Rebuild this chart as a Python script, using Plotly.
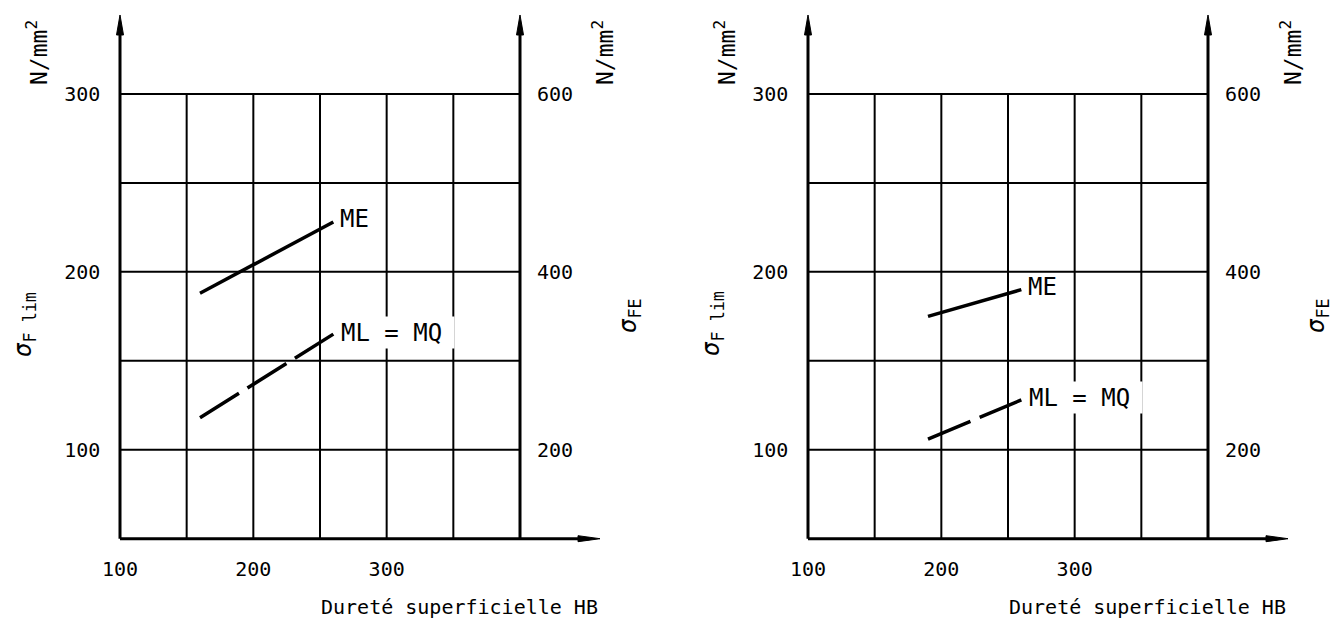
import plotly.graph_objects as go

# ---------------- data ----------------
hb_grid = [150, 200, 250, 300, 350]          # interior vertical grid lines (HB)
sig_grid = [100, 150, 200, 250, 300]         # horizontal grid lines (N/mm2)
x_ticks = [100, 200, 300]
y_ticks = [100, 200, 300]
y_right_ticks = [200, 400, 600]              # sigma_FE = 2 * sigma_F lim
HB_MIN, HB_MAX = 100, 400
SIG_MIN, SIG_MAX = 50, 300
X_END, Y_END = 460, 344.4                    # arrow tips

left_me_hb = [160, 260]
left_me_sig = [188, 228]
left_mlmq_hb = [160, 260]
left_mlmq_sig = [118, 165]

right_me_hb = [190, 260]
right_me_sig = [175, 190]
right_mlmq_hb = [190, 260]
right_mlmq_sig = [106, 128]

x_title = "Dureté superficielle HB"

# ---------------- layout helpers ----------------
W, H = 1334, 622
FONT = "DejaVu Sans Mono"
OFF = 688            # pixel offset of the second panel
PAD = 5              # data-unit padding so edge shapes are not clipped
SX = 480 / (X_END - HB_MIN)          # px per HB unit
SY = (538.7 - 15) / (Y_END - SIG_MIN)  # px per N/mm2 unit

def px(x):
    return x / W

def py(y):
    return 1 - y / H

fig = go.Figure()

panels = [
    ("x", "y", left_me_hb, left_me_sig, left_mlmq_hb, left_mlmq_sig, 0),
    ("x2", "y2", right_me_hb, right_me_sig, right_mlmq_hb, right_mlmq_sig, OFF),
]

shapes = []
annotations = []
for xr, yr, me_x, me_y, ml_x, ml_y, off in panels:
    # grid
    for hb in hb_grid:
        shapes.append(dict(type="line", xref=xr, yref=yr, x0=hb, x1=hb, y0=SIG_MIN, y1=SIG_MAX,
                           line=dict(color="black", width=2), layer="below"))
    for s in sig_grid:
        shapes.append(dict(type="line", xref=xr, yref=yr, x0=HB_MIN, x1=HB_MAX, y0=s, y1=s,
                           line=dict(color="black", width=2), layer="below"))
    # axes
    shapes.append(dict(type="line", xref=xr, yref=yr, x0=HB_MIN, x1=X_END - 8, y0=SIG_MIN, y1=SIG_MIN,
                       line=dict(color="black", width=3), layer="below"))
    for xa in (HB_MIN, HB_MAX):
        shapes.append(dict(type="line", xref=xr, yref=yr, x0=xa, x1=xa, y0=SIG_MIN, y1=Y_END - 5,
                           line=dict(color="black", width=3), layer="below"))
        shapes.append(dict(type="path", xref=xr, yref=yr, xsizemode="pixel", ysizemode="pixel",
                           xanchor=xa, yanchor=Y_END, path="M-3.5,-20 L0,0 L3.5,-20 Z",
                           fillcolor="black", line=dict(color="black", width=1)))
    shapes.append(dict(type="path", xref=xr, yref=yr, xsizemode="pixel", ysizemode="pixel",
                       xanchor=X_END, yanchor=SIG_MIN, path="M-22,-3 L0,0 L-22,3 Z",
                       fillcolor="black", line=dict(color="black", width=1)))

    # curves
    fig.add_trace(go.Scatter(x=me_x, y=me_y, mode="lines", xaxis=xr, yaxis=yr,
                             line=dict(color="black", width=3.5), hoverinfo="skip", showlegend=False))
    fig.add_trace(go.Scatter(x=ml_x, y=ml_y, mode="lines", xaxis=xr, yaxis=yr,
                             line=dict(color="black", width=3.5, dash="46px,10px"),
                             hoverinfo="skip", showlegend=False))

    # curve labels
    annotations.append(dict(xref=xr, yref=yr, x=me_x[-1], y=me_y[-1], text="ME", showarrow=False,
                            xanchor="left", yanchor="middle", xshift=5, yshift=3,
                            font=dict(family=FONT, size=24, color="black")))
    annotations.append(dict(xref=xr, yref=yr, x=ml_x[-1], y=ml_y[-1], text="ML = MQ",
                            showarrow=False, xanchor="left", yanchor="middle", xshift=4, yshift=2,
                            bgcolor="white", width=110, height=25, align="left", borderpad=3,
                            font=dict(family=FONT, size=24, color="black")))

    # right axis tick labels (sigma_FE)
    for v in y_right_ticks:
        annotations.append(dict(xref=xr, yref=yr, x=HB_MAX, y=v / 2, text=str(v), showarrow=False,
                                xanchor="left", yanchor="middle", xshift=15,
                                font=dict(family=FONT, size=20, color="black")))

    # x title
    annotations.append(dict(xref=xr, yref="paper", x=X_END, y=py(607), text=x_title, showarrow=False,
                            xanchor="right", yanchor="middle", xshift=0,
                            font=dict(family=FONT, size=20, color="black")))
    # unit labels
    for ux in (37, 603):
        annotations.append(dict(xref="paper", yref="paper", x=px(ux + off), y=py(53),
                                text="N/mm<sup>2</sup>", showarrow=False, textangle=-90,
                                xanchor="center", yanchor="middle",
                                font=dict(family=FONT, size=23, color="black")))
    annotations.append(dict(xref="paper", yref="paper", x=px(24 + off), y=py(324),
                            text="<i>σ</i><sub>F lim</sub>", showarrow=False, textangle=-90,
                            xanchor="center", yanchor="middle",
                            font=dict(family=FONT, size=24, color="black")))
    annotations.append(dict(xref="paper", yref="paper", x=px(629 + off), y=py(316),
                            text="<i>σ</i><sub>FE</sub>", showarrow=False, textangle=-90,
                            xanchor="center", yanchor="middle",
                            font=dict(family=FONT, size=24, color="black")))

axis_common = dict(showgrid=False, zeroline=False, showline=False, ticks="", automargin=False,
                   tickfont=dict(family=FONT, size=20, color="black"))

x_dom_px = (120 - PAD * SX, 600 + PAD * SX)
y_dom_px = (538.7 + PAD * SY, 15 - PAD * SY)

fig.update_layout(
    width=W, height=H, margin=dict(l=0, r=0, t=0, b=0, pad=0), autosize=False,
    paper_bgcolor="white", plot_bgcolor="white", showlegend=False,
    xaxis=dict(domain=[px(x_dom_px[0]), px(x_dom_px[1])], range=[HB_MIN - PAD, X_END + PAD],
               anchor="y", tickvals=x_ticks, ticklabelstandoff=7, **axis_common),
    yaxis=dict(domain=[py(y_dom_px[0]), py(y_dom_px[1])], range=[SIG_MIN - PAD, Y_END + PAD],
               anchor="x", tickvals=y_ticks, ticklabelstandoff=12, **axis_common),
    xaxis2=dict(domain=[px(x_dom_px[0] + OFF), px(x_dom_px[1] + OFF)], range=[HB_MIN - PAD, X_END + PAD],
                anchor="y2", tickvals=x_ticks, ticklabelstandoff=7, **axis_common),
    yaxis2=dict(domain=[py(y_dom_px[0]), py(y_dom_px[1])], range=[SIG_MIN - PAD, Y_END + PAD],
                anchor="x2", tickvals=y_ticks, ticklabelstandoff=12, **axis_common),
    shapes=shapes,
    annotations=annotations,
)

fig.write_html("out.html", config={"displayModeBar": False},
               post_script="document.body.style.margin='0';")
